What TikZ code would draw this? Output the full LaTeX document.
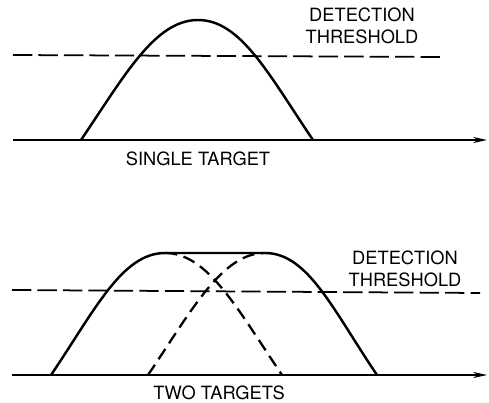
\documentclass[tikz,border=0pt]{standalone}
\usepackage{fontspec}
\setmainfont{TeX Gyre Heros}
\usetikzlibrary{arrows.meta}
\begin{document}
\begin{tikzpicture}[x=0.02cm,y=-0.02cm,
  axis/.style={line width=0.7pt,-{Stealth[length=8pt,width=3.5pt]}},
  thresh/.style={line width=1pt,dash pattern=on 11pt off 3.5pt},
  curve/.style={line width=1.4pt},
  dcurve/.style={line width=1.3pt,dash pattern=on 7pt off 3.8pt},
  lbl/.style={font=\fontsize{10.4}{12.5}\selectfont,inner sep=0pt,align=center}]
\useasboundingbox (0,0) rectangle (489,402);
% ---- top panel
\coordinate (a1) at (13,140);
\coordinate (a2) at (487,140);
\draw[axis] (a1) -- (a2);
\coordinate (t1) at (13,55);
\coordinate (t2) at (445,57);
\draw[thresh] (t1) -- (t2);
\coordinate (s0) at (81,140);
\coordinate (sp) at (198,20);
\coordinate (s1) at (313,140);
\draw[curve] (s0) .. controls (125,75) and (155,20) .. (sp)
  .. controls (241,20) and (269,75) .. (s1);
\node[lbl] (det1) at (362,26) {DETECTION\\THRESHOLD};
\node[lbl] (single) at (198,159) {SINGLE TARGET};
% ---- bottom panel
\coordinate (b1) at (12,375);
\coordinate (b2) at (487,375);
\draw[axis] (b1) -- (b2);
\coordinate (u1) at (12,290);
\coordinate (u2) at (480,293);
\draw[thresh] (u1) -- (u2);
\coordinate (l0) at (51,375);
\coordinate (lp) at (165,253);
\coordinate (l1) at (282,375);
\coordinate (r0) at (148,375);
\coordinate (rp) at (265,253);
\coordinate (r1) at (377,375);
\draw[curve] (l0) .. controls (95,310) and (122,253) .. (lp)
  -- (rp) .. controls (308,253) and (333,310) .. (r1);
\draw[dcurve] (lp) .. controls (208,253) and (238,310) .. (l1);
\draw[dcurve] (r0) .. controls (192,310) and (222,253) .. (rp);
\node[lbl] (det2) at (405,269) {DETECTION\\THRESHOLD};
\node[lbl] (two) at (219,393) {TWO TARGETS};
\end{tikzpicture}
\end{document}
